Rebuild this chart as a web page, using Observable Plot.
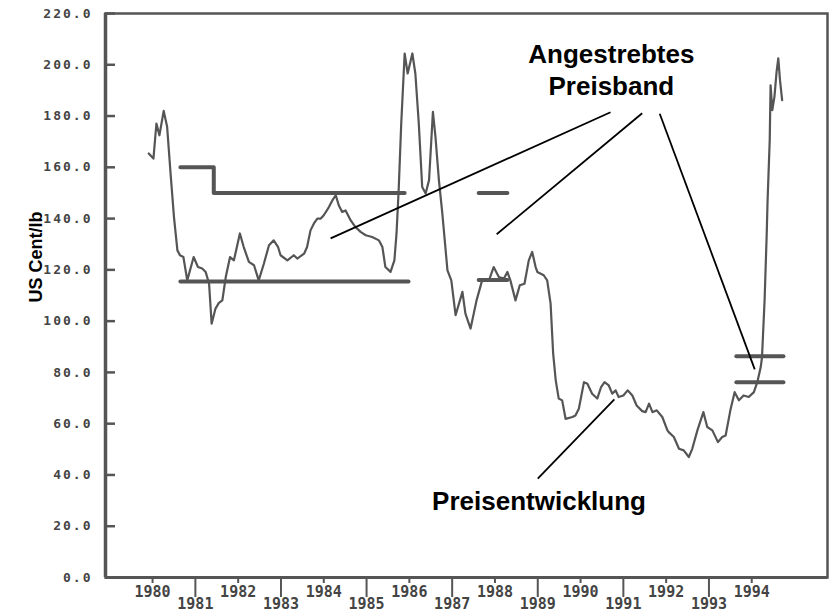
<!DOCTYPE html>
<html><head><meta charset="utf-8">
<script src="https://cdn.jsdelivr.net/npm/d3@7"></script>
<script src="https://cdn.jsdelivr.net/npm/@observablehq/plot@0.6"></script>
<style>
body{margin:0;background:#fff}
#chart svg{display:block}
#chart g[aria-label="y-axis tick label"] text{letter-spacing:2px}
</style>
</head><body><div id="chart"></div><script>
// Price series (year fraction, US cent/lb)
const priceYear = [1979.91,1980.02,1980.09,1980.16,1980.26,1980.34,1980.42,1980.50,1980.58,1980.64,1980.72,1980.81,1980.96,1981.06,1981.16,1981.24,1981.32,1981.38,1981.47,1981.55,1981.63,1981.71,1981.81,1981.90,1982.04,1982.13,1982.25,1982.37,1982.48,1982.60,1982.72,1982.83,1982.93,1982.99,1983.15,1983.30,1983.38,1983.54,1983.61,1983.69,1983.77,1983.85,1983.93,1984.00,1984.12,1984.20,1984.28,1984.35,1984.43,1984.51,1984.63,1984.74,1984.86,1984.98,1985.13,1985.29,1985.37,1985.44,1985.56,1985.65,1985.70,1985.75,1985.81,1985.89,1985.96,1986.07,1986.14,1986.22,1986.30,1986.38,1986.46,1986.55,1986.61,1986.69,1986.77,1986.89,1986.98,1987.08,1987.24,1987.31,1987.43,1987.57,1987.70,1987.86,1987.97,1988.09,1988.21,1988.29,1988.36,1988.48,1988.58,1988.69,1988.79,1988.87,1988.95,1988.99,1989.14,1989.22,1989.30,1989.36,1989.42,1989.49,1989.57,1989.65,1989.81,1989.88,1989.96,1990.08,1990.16,1990.27,1990.39,1990.48,1990.56,1990.66,1990.74,1990.82,1990.89,1991.00,1991.10,1991.21,1991.31,1991.44,1991.52,1991.60,1991.68,1991.78,1991.91,1992.03,1992.06,1992.18,1992.30,1992.41,1992.53,1992.61,1992.73,1992.87,1992.96,1993.08,1993.21,1993.31,1993.39,1993.50,1993.60,1993.70,1993.81,1993.93,1994.05,1994.13,1994.21,1994.24,1994.30,1994.35,1994.37,1994.42,1994.44,1994.48,1994.53,1994.58,1994.62,1994.66,1994.71];
const priceValue = [165.4,163.4,177.1,172.5,182.0,175.8,157.7,140.6,127.6,125.7,125.0,115.9,125.0,121.1,120.5,119.2,114.6,99.0,104.9,107.1,108.1,117.2,125.0,123.7,134.2,128.9,123.1,121.8,115.9,122.4,129.6,131.5,129.0,125.7,123.7,125.7,124.4,126.3,128.9,135.4,138.1,140.0,140.0,141.3,144.5,147.1,149.1,145.2,142.6,143.2,139.3,136.7,134.8,133.5,132.8,131.5,128.9,121.1,119.2,123.7,134.2,151.1,177.1,204.4,196.6,204.4,196.6,177.1,152.3,149.8,155.0,181.6,171.9,155.0,142.0,119.8,115.9,102.3,111.4,102.9,97.1,108.1,115.9,115.9,121.1,117.2,116.6,119.2,115.9,108.1,114.0,114.6,123.7,127.0,121.1,119.2,117.9,115.9,106.8,87.3,76.9,69.8,69.1,61.9,62.6,63.2,65.8,76.2,75.6,71.7,69.8,74.3,76.2,74.9,71.7,73.0,70.4,71.0,73.0,71.0,67.1,64.9,64.5,67.8,64.5,65.2,62.6,57.4,56.7,54.8,50.2,49.6,47.0,50.2,57.4,64.5,58.7,57.4,52.8,54.8,55.4,65.2,72.3,69.1,71.0,70.4,72.3,76.2,82.1,86.0,108.1,134.2,147.1,170.6,192.0,182.3,187.5,197.2,202.5,194.0,186.2];

// Target price band polylines
const bandGroup = ["a","a","a","a","b","b","c","c","d","d","e","e","f","f"];
const bandYear  = [1980.65,1981.43,1981.43,1985.89, 1980.65,1985.98, 1987.62,1988.29, 1987.62,1988.29, 1993.64,1994.74, 1993.64,1994.74];
const bandValue = [160,160,150,150, 115.5,115.5, 150,150, 116,116, 86.3,86.3, 76.2,76.2];

// Axis ticks
const yTicks = [0,20,40,60,80,100,120,140,160,180,200,220];
const evenYears = [1980,1982,1984,1986,1988,1990,1992,1994];
const oddYears = [1981,1983,1985,1987,1989,1991,1993];

// Annotations
const noteText = ["Angestrebtes\nPreisband", "Preisentwicklung"];
const noteYear = [1990.72, 1989.03];
const noteValue = [209.5, 35.3];
const leaderX1 = [1990.70, 1991.44, 1991.85, 1990.79];
const leaderY1 = [181.5, 181.1, 180.9, 69.5];
const leaderX2 = [1984.16, 1988.04, 1994.07, 1989.00];
const leaderY2 = [132.3, 133.9, 81.2, 38.6];

const W = 837, H = 615, mL = 105, mR = 10, mT = 13, mB = 38;
const xDomain = [1978.9, 1995.77];
const gray = "#555";
const mono = "DejaVu Sans Mono, monospace";
const sans = "Liberation Sans, Arial, sans-serif";

const price = priceYear.map((t, i) => ({t, v: priceValue[i]}));
const bands = bandYear.map((t, i) => ({t, v: bandValue[i], g: bandGroup[i]}));
const leaders = leaderX1.map((x1, i) => ({x1, y1: leaderY1[i], x2: leaderX2[i], y2: leaderY2[i]}));
const notes = noteText.map((s, i) => ({s, t: noteYear[i], v: noteValue[i]}));

const chart = Plot.plot({
  width: W, height: H,
  marginLeft: mL, marginRight: mR, marginTop: mT, marginBottom: mB,
  x: {domain: xDomain},
  y: {domain: [0, 220]},
  style: {background: "#fff", color: "#3a3a3a", overflow: "visible"},
  marks: [
    Plot.axisY(yTicks, {tickSize: 0, tickPadding: 13, tickFormat: d => d.toFixed(1), fontFamily: mono, fontSize: 13, fontWeight: "bold", fill: "#444", label: null}),
    Plot.axisY(yTicks, {tickSize: 10, dx: 10, tickFormat: () => "", stroke: gray, strokeWidth: 2.5, label: null}),
    Plot.axisX(evenYears, {tickSize: 6, tickPadding: 3, tickFormat: d => String(d), fontFamily: mono, fontSize: 15, fontWeight: "bold", fill: "#444", stroke: gray, strokeWidth: 2, label: null}),
    Plot.axisX(oddYears, {tickSize: 20, tickPadding: 1, tickFormat: d => String(d), fontFamily: mono, fontSize: 15, fontWeight: "bold", fill: "#444", stroke: gray, strokeWidth: 2, label: null}),
    Plot.frame({stroke: gray, strokeWidth: 2.5}),
    Plot.ruleX([xDomain[0]], {stroke: gray, strokeWidth: 3.5}),
    Plot.ruleY([0], {stroke: gray, strokeWidth: 3}),
    Plot.line(bands, {x: "t", y: "v", z: "g", stroke: gray, strokeWidth: 4}),
    Plot.line(price, {x: "t", y: "v", stroke: gray, strokeWidth: 2.2}),
    Plot.link(leaders, {x1: "x1", y1: "y1", x2: "x2", y2: "y2", stroke: "#000", strokeWidth: 1.8}),
    Plot.text(notes, {x: "t", y: "v", text: "s", lineAnchor: "top", lineHeight: 1.23, fontFamily: sans, fontWeight: "bold", fontSize: 26, fill: "#000"}),
    Plot.text(["US Cent/lb"], {frameAnchor: "left", y: 125, dx: -69, rotate: -90, textAnchor: "middle", text: d => d, fontFamily: sans, fontWeight: "bold", fontSize: 18, fill: "#000"})
  ]
});
document.getElementById("chart").appendChild(chart);
</script></body></html>
